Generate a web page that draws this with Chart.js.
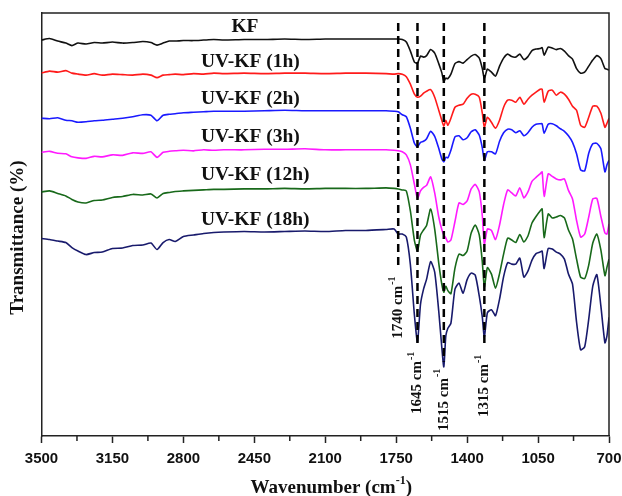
<!DOCTYPE html>
<html>
<head>
<meta charset="utf-8">
<title>FTIR spectra of KF and UV-KF</title>
<script src="https://cdn.jsdelivr.net/npm/chart.js"></script>
<style>
  html, body { margin: 0; padding: 0; background: #fff; }
  #wrap { width: 622px; height: 496px; }
</style>
</head>
<body>
<div id="wrap"><canvas id="myChart"></canvas></div>
<script>
// wavenumbers (cm-1) shared by every spectrum
const wavenumbers = [
  3500, 3460, 3420, 3380, 3350, 3320, 3280, 3240, 3200, 3150,
  3100, 3050, 3000, 2960, 2930, 2900, 2870, 2840, 2800, 2750,
  2700, 2650, 2600, 2500, 2400, 2300, 2200, 2100, 2000, 1900,
  1800, 1760,
  1740, 1720, 1700, 1680, 1660, 1645, 1630, 1615, 1600, 1580,
  1560, 1540, 1525, 1515, 1505, 1495, 1480, 1460, 1440, 1420,
  1400, 1380, 1360, 1340, 1325, 1315, 1300, 1280, 1260, 1240,
  1220, 1200, 1180, 1160, 1140, 1120, 1100, 1080, 1060, 1040,
  1030, 1020, 1000, 980, 960, 940, 920, 900, 880, 860,
  840, 820, 800, 780, 760, 740, 720, 710, 700
];

// transmittance (a.u., spectra stacked)
const kf = [
  395, 396.5, 394, 392, 389.5, 392, 391, 392.5, 392, 393,
  392, 392.5, 393.5, 392.5, 390, 392, 394, 394, 394.5, 394.5,
  395, 395.5, 395, 395.5, 395.5, 396, 395.5, 396, 396, 396,
  396, 396,
  396, 395.5, 393, 384, 373, 372, 379, 378, 379.5, 385.5,
  382, 371.5, 362.5, 354, 357, 356.5, 361, 371.5, 373.5, 372,
  375.5, 379, 380.5, 377, 366.5, 356.5, 366, 363, 359, 369,
  377, 381, 378.5, 378, 381, 375.5, 378.5, 384.5, 386, 386.5,
  387.5, 380, 388, 387, 385.5, 386.5, 384, 379.5, 376, 366.5,
  362, 363, 369, 375, 379.5, 376.5, 366.5, 366, 365
];
const uvkf1h = [
  362, 364, 363, 364.5, 362, 361, 360, 361.5, 360, 361,
  360.5, 360, 361, 360, 357.5, 360, 360.5, 361, 360.5, 361.5,
  361, 362, 361.5, 362, 361.5, 362, 362, 361.5, 362, 362,
  361.5, 361,
  361.5, 361, 358.5, 351, 341, 338, 339, 342, 344, 345.5,
  338, 325, 315, 309, 315, 310, 317, 328, 330, 331,
  337, 341, 341, 338, 322, 308, 318, 313, 307, 315,
  328, 335, 335, 333, 338, 331, 336, 340, 343, 346,
  346, 333, 344, 345, 340, 343, 341, 336, 329, 325,
  310, 308, 318, 329, 329, 322, 308, 312, 317
];
const uvkf2h = [
  317, 316.5, 317.5, 315, 314.5, 313, 313.5, 314.5, 315, 316,
  317, 318.5, 320.5, 320, 314.5, 320, 321, 321.5, 322.5, 323,
  323.5, 324, 324, 324, 324.5, 325, 324.5, 324.5, 324.5, 324.5,
  324.5, 324,
  323.5, 320.5, 318.5, 307, 292, 288.5, 293, 294, 296.5, 304,
  299, 287, 276.5, 273.5, 278, 277.5, 285, 298.5, 299.5, 295.5,
  297.5, 303.5, 305.5, 300, 287.5, 275, 283.5, 283.5, 281.5, 294,
  302.5, 306, 305.5, 302.5, 304.5, 299.5, 302.5, 308, 311, 311.5,
  311.5, 302, 311, 311.5, 309.5, 306.5, 304, 299.5, 293, 281.5,
  265.5, 264.5, 282, 291.5, 292, 286.5, 263.5, 270.5, 275
];
const uvkf3h = [
  283, 284, 282, 281.5, 278.5, 277.5, 277, 279, 278.5, 280.5,
  280, 282.5, 282, 283.5, 278, 283, 284, 284.5, 285, 284.5,
  285.5, 285, 285.5, 285.5, 286, 286, 286.5, 285.5, 285.5, 285.5,
  285.5, 285,
  284.5, 283.5, 280.5, 270.5, 251, 237, 244.5, 248, 250, 258.5,
  242.5, 218.5, 206, 200.5, 197.5, 193.5, 195.5, 214, 232.5, 231,
  234.5, 246.5, 251, 243.5, 219.5, 191.5, 206.5, 205, 196, 210.5,
  231, 245.5, 242.5, 239.5, 247.5, 237.5, 243.5, 254, 258, 261.5,
  263.5, 239, 261.5, 259, 256.5, 255.5, 256.5, 245, 236.5, 215,
  198.5, 201.5, 218.5, 236.5, 237, 219, 202.5, 201.5, 211.5
];
const uvkf12h = [
  243.5, 244.5, 242, 239.5, 236, 233.5, 232.5, 235, 235.5, 238,
  239, 241, 240.5, 241.5, 237.5, 242, 243, 244, 244.5, 245,
  245.5, 246, 246, 246.5, 246.5, 247, 246.5, 247, 247, 247,
  247.5, 247,
  246.5, 245.5, 244.5, 224.5, 195, 184.5, 200.5, 205.5, 210, 226.5,
  206.5, 172.5, 151.5, 143.5, 149.5, 145, 142, 167.5, 181.5, 180,
  184.5, 202.5, 210.5, 200.5, 173.5, 148.5, 168, 161.5, 147.5, 162,
  181.5, 197.5, 195.5, 193, 201, 193.5, 199.5, 212.5, 219, 224.5,
  226.5, 198, 221.5, 217.5, 218.5, 220, 217.5, 205.5, 196.5, 176.5,
  158.5, 157, 170.5, 192.5, 201.5, 185.5, 160, 168.5, 176.5
];
const uvkf18h = [
  197, 196, 194.5, 193, 188, 184.5, 181, 183, 183.5, 187,
  187.5, 190, 190.5, 192.5, 186, 193, 196, 194, 199, 200.5,
  202, 203, 203.5, 204, 203.5, 204, 204.5, 204, 205, 205,
  206, 206.5,
  201.5, 201.5, 198.5, 171, 120.5, 93.5, 131.5, 146.5, 156.5, 174,
  163.5, 124.5, 88.5, 69, 100, 107.5, 112.5, 146.5, 152.5, 142.5,
  156, 162.5, 160.5, 139.5, 118.5, 98.5, 123, 126, 120, 136.5,
  159, 173, 171.5, 171.5, 177.5, 158.5, 164.5, 175.5, 182, 183.5,
  184.5, 167, 187, 186.5, 183.5, 181.5, 176.5, 161.5, 151.5, 113.5,
  86, 89, 116.5, 149.5, 161, 129.5, 93, 100, 118.5
];

const seriesNames = ['KF', 'UV-KF (1h)', 'UV-KF (2h)', 'UV-KF (3h)', 'UV-KF (12h)', 'UV-KF (18h)'];
const seriesColors = ['#111111', '#ff1a1a', '#1a1aff', '#ff1aff', '#18691a', '#181a6c'];
const allSeries = [kf, uvkf1h, uvkf2h, uvkf3h, uvkf12h, uvkf18h];

// labelled ticks on the wavenumber axis (ascending, the axis is reversed)
const xTicks = [700, 1050, 1400, 1750, 2100, 2450, 2800, 3150, 3500];

// marked bands
const peakPositions = [1740, 1645, 1515, 1315];

const serif = '"Liberation Serif", "Times New Roman", serif';
const sans = '"Liberation Sans", Arial, sans-serif';

// where the annotations sit, in axis units
const dashTop = 412;
const dashEnd = [167, 89, 74, 89];
const peakLabelStart = [97, 22, 5, 19];
const nameAnchorX = [2496, 2713, 2713, 2713, 2713, 2713];
const nameAnchorY = [403.5, 368.5, 331, 293.5, 255, 211];

// build one dataset per spectrum
const datasets = allSeries.map((vals, i) => ({
  label: seriesNames[i],
  data: wavenumbers.map((w, j) => ({ x: w, y: vals[j] })),
  borderColor: seriesColors[i],
  borderWidth: 1.6,
  pointRadius: 0,
  tension: 0.2,
  fill: false
}));

// extra drawing: frame, minor ticks, dashed band lines, texts
const annotate = {
  id: 'annotate',
  afterDatasetsDraw(chart) {
    const ctx = chart.ctx;
    const area = chart.chartArea;
    const x = chart.scales.x;
    const y = chart.scales.y;
    ctx.save();

    // top and right side of the frame
    ctx.strokeStyle = '#222';
    ctx.lineWidth = 1.5;
    ctx.beginPath();
    ctx.moveTo(area.left, area.top);
    ctx.lineTo(area.right, area.top);
    ctx.lineTo(area.right, area.bottom);
    ctx.stroke();

    // minor ticks between the labelled ones
    ctx.beginPath();
    for (let i = 0; i < xTicks.length - 1; i++) {
      const px = x.getPixelForValue((xTicks[i] + xTicks[i + 1]) / 2);
      ctx.moveTo(px, area.bottom);
      ctx.lineTo(px, area.bottom + 5);
    }
    ctx.stroke();

    // dashed lines at the bands
    ctx.strokeStyle = '#000';
    ctx.lineWidth = 2.5;
    ctx.setLineDash([8, 5]);
    peakPositions.forEach((wn, i) => {
      const px = x.getPixelForValue(wn);
      ctx.beginPath();
      ctx.moveTo(px, y.getPixelForValue(dashTop));
      ctx.lineTo(px, y.getPixelForValue(dashEnd[i]));
      ctx.stroke();
    });
    ctx.setLineDash([]);

    // rotated band labels, e.g. 1740 cm-1
    ctx.fillStyle = '#111';
    peakPositions.forEach((wn, i) => {
      ctx.save();
      ctx.translate(x.getPixelForValue(wn), y.getPixelForValue(peakLabelStart[i]));
      ctx.rotate(-Math.PI / 2);
      ctx.textBaseline = 'middle';
      ctx.textAlign = 'left';
      ctx.font = 'bold 15px ' + serif;
      const txt = wn + ' cm';
      ctx.fillText(txt, 0, 0);
      const w = ctx.measureText(txt).width;
      ctx.font = 'bold 10px ' + serif;
      ctx.fillText('-1', w + 1, -6);
      ctx.restore();
    });

    // spectrum names
    ctx.font = 'bold 19.5px ' + serif;
    ctx.textBaseline = 'alphabetic';
    seriesNames.forEach((name, i) => {
      ctx.textAlign = i === 0 ? 'center' : 'left';
      ctx.fillText(name, x.getPixelForValue(nameAnchorX[i]), y.getPixelForValue(nameAnchorY[i]));
    });

    // x axis title with superscript
    const cx = (area.left + area.right) / 2 + 6;
    const t1 = 'Wavenumber (cm';
    const t2 = '-1';
    const t3 = ')';
    ctx.font = 'bold 19px ' + serif;
    const w1 = ctx.measureText(t1).width;
    const w3 = ctx.measureText(t3).width;
    ctx.font = 'bold 12px ' + serif;
    const w2 = ctx.measureText(t2).width;
    let sx = cx - (w1 + w2 + w3) / 2;
    ctx.textAlign = 'left';
    ctx.font = 'bold 19px ' + serif;
    ctx.fillText(t1, sx, 493);
    ctx.font = 'bold 12px ' + serif;
    ctx.fillText(t2, sx + w1, 484);
    ctx.font = 'bold 19px ' + serif;
    ctx.fillText(t3, sx + w1 + w2, 493);

    // y axis title
    ctx.save();
    ctx.translate(18, (area.top + area.bottom) / 2 + 13);
    ctx.rotate(-Math.PI / 2);
    ctx.textAlign = 'center';
    ctx.textBaseline = 'middle';
    ctx.font = 'bold 19px ' + serif;
    ctx.fillText('Transmittance (%)', 0, 0);
    ctx.restore();

    ctx.restore();
  }
};

const myChart = new Chart(document.getElementById('myChart'), {
  type: 'line',
  data: { datasets: datasets },
  plugins: [annotate],
  options: {
    responsive: true,
    maintainAspectRatio: false,
    animation: false,
    layout: { padding: { left: 41.5, right: 13, top: 13, bottom: 22 } },
    plugins: {
      legend: { display: false },
      tooltip: { enabled: false }
    },
    scales: {
      x: {
        type: 'linear',
        reverse: true,
        min: 700,
        max: 3500,
        afterBuildTicks: axis => {
          axis.ticks = xTicks.map(v => ({ value: v }));
        },
        ticks: {
          autoSkip: false,
          maxRotation: 0,
          padding: 6.5,
          color: '#111',
          font: { family: sans, size: 15, weight: 'bold' },
          callback: v => String(v)
        },
        grid: {
          drawOnChartArea: false,
          drawTicks: true,
          tickLength: 7,
          tickWidth: 1.5,
          tickColor: '#222'
        },
        border: { display: true, color: '#222', width: 1.5 }
      },
      y: {
        min: 0,
        max: 422,
        ticks: { display: false },
        grid: { display: false, drawTicks: false, tickLength: 0 },
        border: { display: true, color: '#222', width: 1.5 }
      }
    }
  }
});
</script>
</body>
</html>
